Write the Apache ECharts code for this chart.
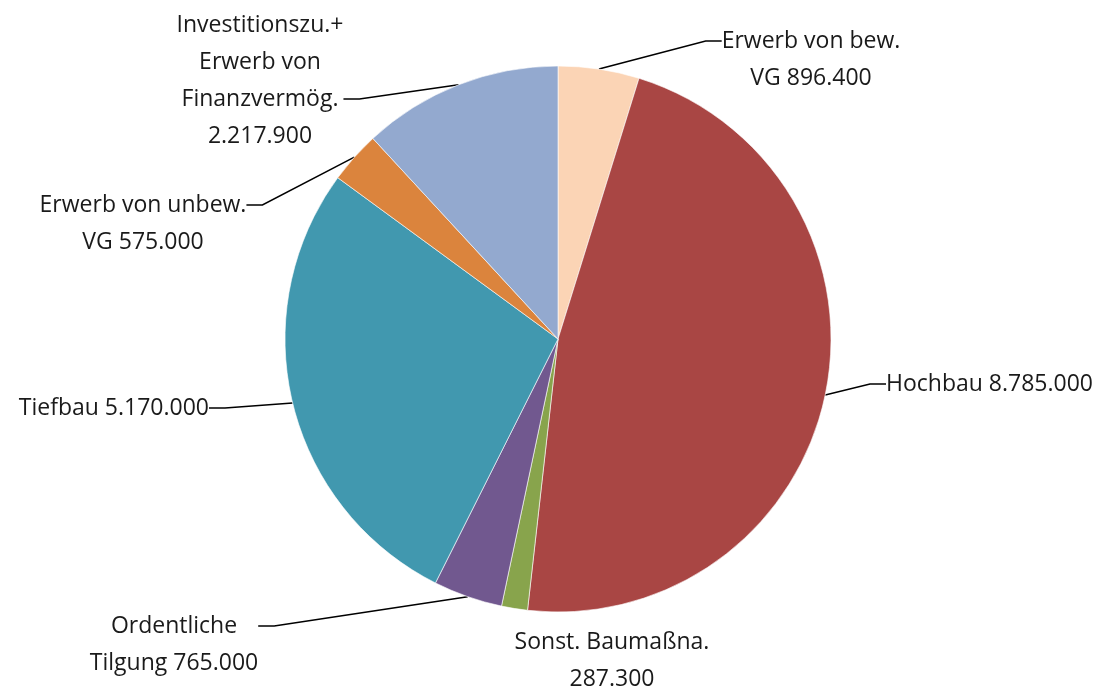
<!DOCTYPE html>
<html>
    <head>
        <meta charset="utf-8">
        <script src="https://cdn.jsdelivr.net/npm/echarts@6/dist/echarts.min.js"></script>
        <style>
            html, body { margin: 0; padding: 0; background: #fff; }
            #main { width: 1106px; height: 693px; }
        </style>
    </head>
    <body>
        <div id="main"></div>
        <script>
            var categories = [
                'Erwerb von bew.\nVG',
                'Hochbau',
                'Sonst. Baumaßna.\n',
                'Ordentliche\nTilgung',
                'Tiefbau',
                'Erwerb von unbew.\nVG',
                'Investitionszu.+\nErwerb von\nFinanzvermög.\n'
            ];
            var values = [896400, 8785000, 287300, 765000, 5170000, 575000, 2217900];
            var colors = ['#FBD4B5', '#A94644', '#88A44C', '#71588F', '#4198AF', '#DB843D', '#93A9CF'];

            // label anchor positions (x, y, align) and padding lines so the
            // leader line meets the right text row
            var labelPos = [
                [811, 41, 'center', 'top'],
                [886, 384, 'left', ''],
                [612, 661, 'center', ''],
                [174, 626, 'center', 'top'],
                [209, 408, 'right', ''],
                [143, 205, 'center', 'top'],
                [260, 99, 'center', 'bottom']
            ];

            function fmt(v) {
                return String(v).replace(/\B(?=(\d{3})+(?!\d))/g, '.');
            }

            var data = [];
            for (var i = 0; i < values.length; i++) {
                data.push({
                    name: categories[i],
                    value: values[i],
                    itemStyle: { color: colors[i] },
                    labelLine: { show: i !== 2 }
                });
            }

            var chart = echarts.init(document.getElementById('main'));
            chart.setOption({
                backgroundColor: '#fff',
                animation: false,
                series: [{
                    type: 'pie',
                    center: [558, 339],
                    radius: 273,
                    startAngle: 90,
                    clockwise: true,
                    data: data,
                    itemStyle: { borderColor: '#fff', borderWidth: 0.6 },
                    label: {
                        show: true,
                        position: 'outside',
                        fontFamily: 'Open Sans',
                        fontSize: 23,
                        lineHeight: 37,
                        color: '#1a1a1a',
                        formatter: function (p) {
                            var n = p.name;
                            var sep = n.charAt(n.length - 1) === '\n' ? '' : ' ';
                            var txt = n + sep + fmt(p.value);
                            var pad = labelPos[p.dataIndex][3];
                            if (pad === 'top') txt = ' \n' + txt;
                            if (pad === 'bottom') txt = txt + '\n ';
                            return txt;
                        }
                    },
                    labelLine: {
                        show: true,
                        length: 20,
                        length2: 16,
                        lineStyle: { color: '#000', width: 1.5 }
                    },
                    labelLayout: function (p) {
                        var lp = labelPos[p.dataIndex];
                        return {
                            x: lp[0],
                            y: lp[1],
                            align: lp[2],
                            verticalAlign: 'middle'
                        };
                    }
                }]
            });
        </script>
    </body>
</html>
